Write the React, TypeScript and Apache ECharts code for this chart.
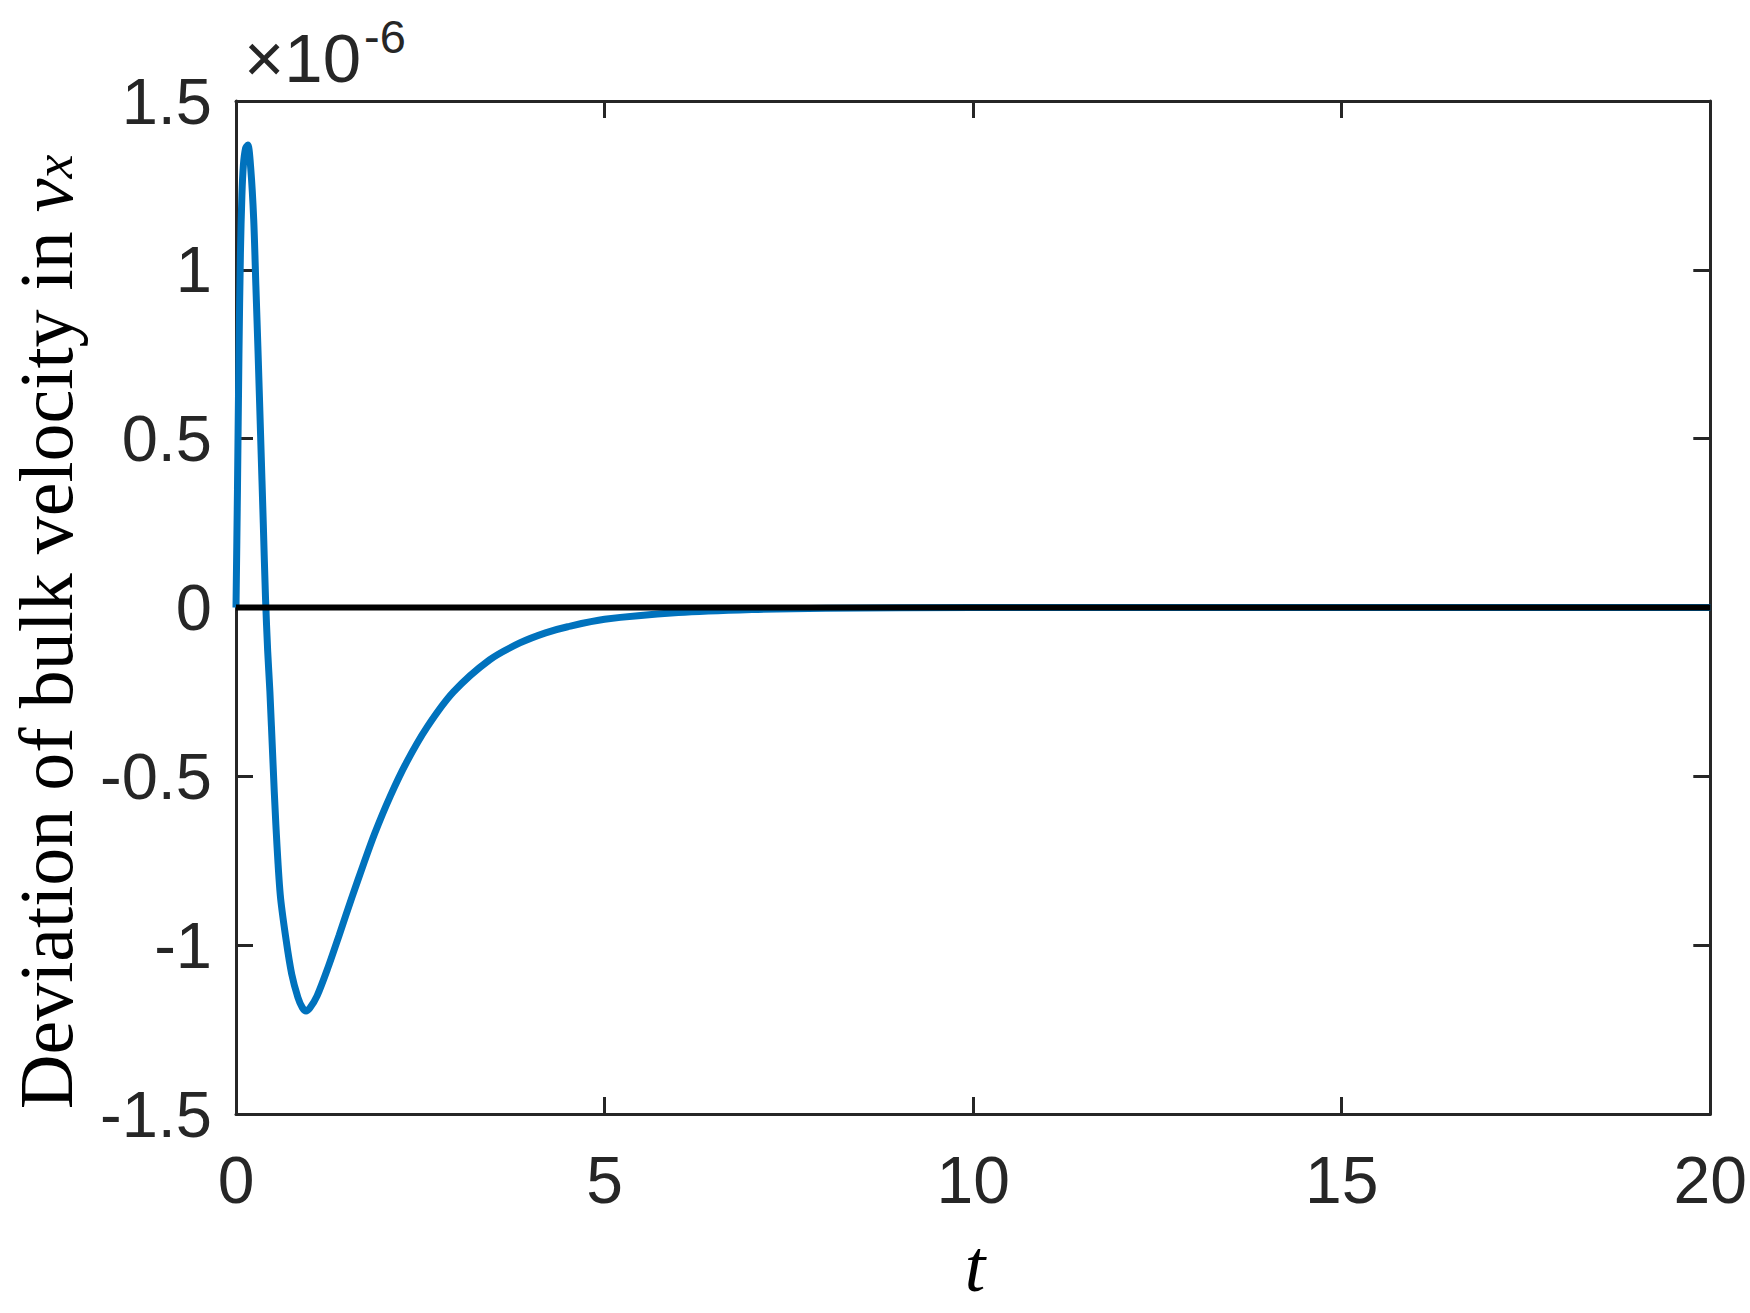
import React, { useEffect, useRef } from "react";
import * as echarts from "echarts";

// time t
const tValues: number[] = [
  0, 0.02, 0.04, 0.06, 0.08, 0.1, 0.13, 0.16, 0.2, 0.24, 0.27, 0.3, 0.335, 0.37, 0.4, 0.43,
  0.46, 0.5, 0.54, 0.6, 0.68, 0.755, 0.84, 0.9, 0.95, 1.0, 1.1, 1.25, 1.4, 1.57, 1.73, 1.88,
  2.09, 2.31, 2.59, 2.95, 3.44, 3.85, 4.2, 4.5, 5.0, 6.0, 7.0, 8.0, 10, 20,
];
// deviation (units of 1e-6)
const devValues: number[] = [
  0, 0.35, 0.75, 1.05, 1.22, 1.31, 1.36, 1.37, 1.3, 1.15, 0.95, 0.75, 0.5, 0.25, 0.03, -0.13,
  -0.25, -0.45, -0.64, -0.85, -0.985, -1.085, -1.155, -1.185, -1.195, -1.187, -1.15, -1.065, -0.97, -0.86, -0.76, -0.67,
  -0.56, -0.46, -0.355, -0.25, -0.155, -0.105, -0.075, -0.057, -0.035, -0.015, -0.006, -0.002, 0, 0,
];
const zeroLineT: number[] = [0, 20];
const zeroLineV: number[] = [0, 0];
const xTicks: number[] = [0, 5, 10, 15, 20];
const yTicks: number[] = [-1.5, -1, -0.5, 0, 0.5, 1, 1.5];

const AXIS_COLOR = "#262626";
const SANS = "'Liberation Sans', Arial, Helvetica, sans-serif";
const SERIF = "'Liberation Serif', 'Times New Roman', serif";

export default function App() {
  const ref = useRef<HTMLDivElement>(null);
  useEffect(() => {
    if (!ref.current) return;
    const chart = echarts.init(ref.current, null, { renderer: "svg" });
    const curve = tValues.map((t, i) => [t, devValues[i]]);
    const zero = zeroLineT.map((t, i) => [t, zeroLineV[i]]);
    const tickCommon = {
      show: true,
      inside: true,
      length: 17,
      lineStyle: { color: AXIS_COLOR, width: 3 },
    };
    const axisLineCommon = { show: true, onZero: false, lineStyle: { color: AXIS_COLOR, width: 3 } };
    chart.setOption({
      animation: false,
      backgroundColor: "#ffffff",
      grid: { left: 236, top: 101, right: 39, bottom: 199, containLabel: false },
      xAxis: [
        {
          type: "value",
          min: xTicks[0],
          max: xTicks[xTicks.length - 1],
          interval: 5,
          position: "bottom",
          axisLine: axisLineCommon,
          axisTick: tickCommon,
          splitLine: { show: false },
          axisLabel: {
            color: AXIS_COLOR,
            fontFamily: SANS,
            fontSize: 66,
            margin: 33,
            formatter: (v: number) => String(v),
          },
        },
        {
          type: "value",
          min: xTicks[0],
          max: xTicks[xTicks.length - 1],
          interval: 5,
          position: "top",
          axisLine: axisLineCommon,
          axisTick: tickCommon,
          splitLine: { show: false },
          axisLabel: { show: false },
        },
      ],
      yAxis: [
        {
          type: "value",
          min: yTicks[0],
          max: yTicks[yTicks.length - 1],
          interval: 0.5,
          position: "left",
          axisLine: axisLineCommon,
          axisTick: tickCommon,
          splitLine: { show: false },
          axisLabel: {
            color: AXIS_COLOR,
            fontFamily: SANS,
            fontSize: 65,
            margin: 24,
            formatter: (v: number) => String(v),
          },
        },
        {
          type: "value",
          min: yTicks[0],
          max: yTicks[yTicks.length - 1],
          interval: 0.5,
          position: "right",
          axisLine: axisLineCommon,
          axisTick: tickCommon,
          splitLine: { show: false },
          axisLabel: { show: false },
        },
      ],
      series: [
        {
          type: "line",
          data: curve,
          showSymbol: false,
          smooth: 0.3,
          clip: false,
          lineStyle: { color: "#0072BD", width: 7 },
          z: 2,
        },
        {
          type: "line",
          data: zero,
          showSymbol: false,
          lineStyle: { color: "#000000", width: 6 },
          z: 3,
        },
      ],
      graphic: [
        {
          type: "text",
          left: 244,
          top: 24,
          style: {
            text: "×10",
            font: `69px ${SANS}`,
            fill: AXIS_COLOR,
          },
        },
        {
          type: "text",
          left: 364,
          top: 13,
          style: {
            text: "-6",
            font: `47px ${SANS}`,
            fill: AXIS_COLOR,
          },
        },
        {
          type: "text",
          x: 975,
          y: 1266,
          style: {
            text: "t",
            font: `italic 74px ${SERIF}`,
            fill: "#000000",
            align: "center",
            verticalAlign: "middle",
          },
        },
        {
          type: "text",
          x: 46,
          y: 632,
          rotation: Math.PI / 2,
          style: {
            text: "{n|Deviation of bulk velocity in }{v|v}{s|x}",
            fill: "#000000",
            align: "center",
            verticalAlign: "middle",
            rich: {
              n: { fontFamily: SERIF, fontSize: 76, lineHeight: 70, verticalAlign: "middle", fill: "#000" },
              v: { fontFamily: SERIF, fontStyle: "italic", fontSize: 76, lineHeight: 70, verticalAlign: "middle", fill: "#000" },
              s: { fontFamily: SERIF, fontStyle: "italic", fontSize: 54, lineHeight: 48, verticalAlign: "bottom", fill: "#000" },
            },
          },
        },
      ],
    });
    return () => chart.dispose();
  }, []);
  return (
    <div
      ref={ref}
      style={{ position: "absolute", left: 0, top: 0, width: 1750, height: 1313, background: "#fff" }}
    />
  );
}
